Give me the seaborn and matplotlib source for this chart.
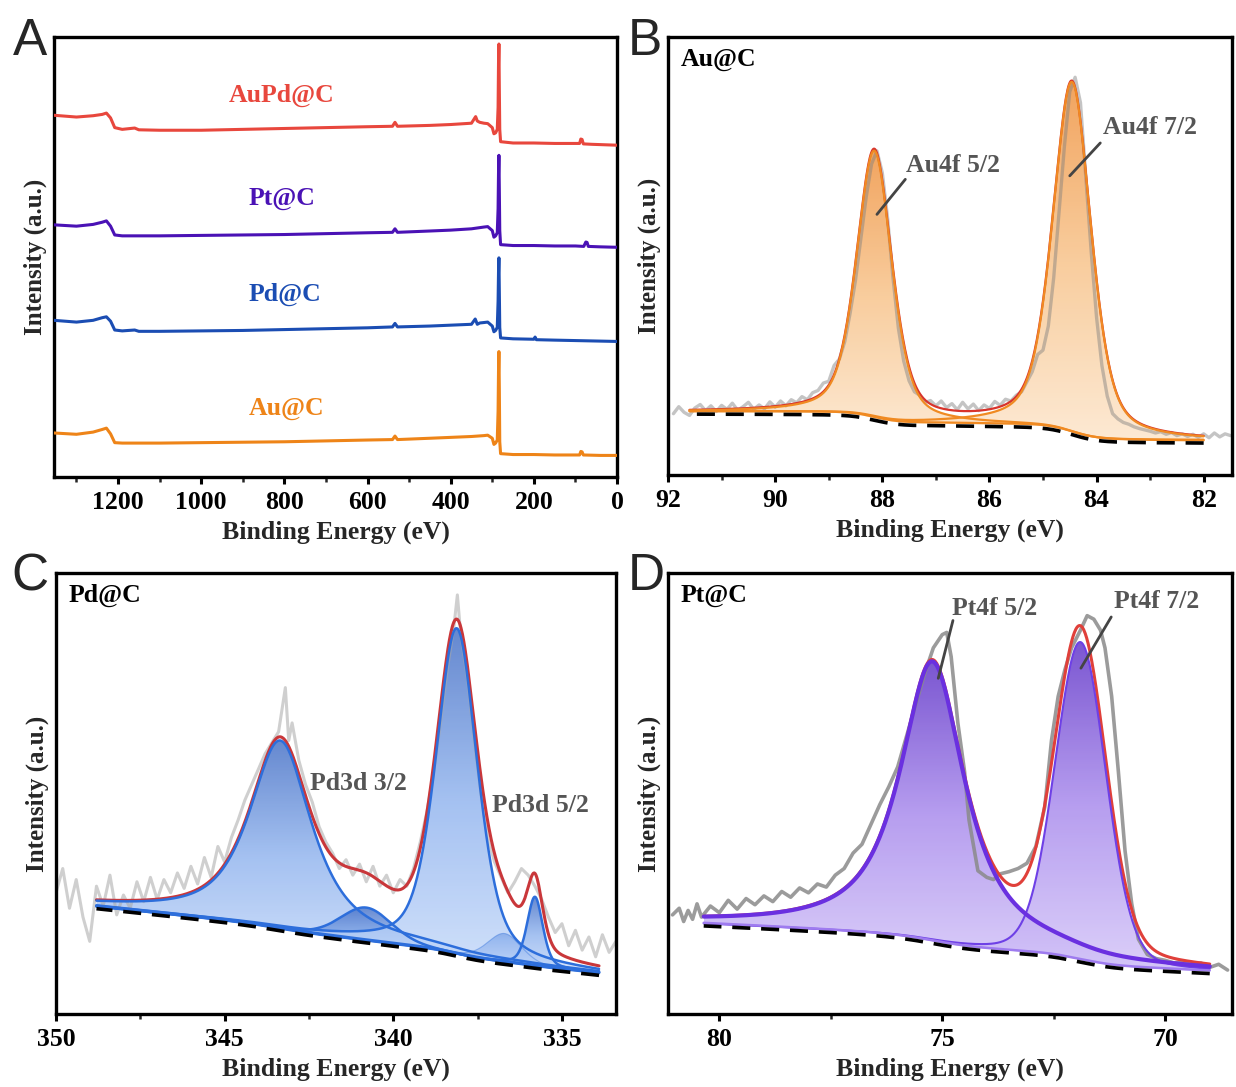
import numpy as np
import pandas as pd
import matplotlib
matplotlib.use("Agg")
import matplotlib.pyplot as plt
import seaborn as sns
from matplotlib.colors import LinearSegmentedColormap
from matplotlib.patches import PathPatch
from matplotlib.path import Path
from matplotlib.ticker import MultipleLocator

# ---------------- Panel A: survey spectra (binding energy eV, intensity a.u.) ----------------
aupd_E = [1354, 1300, 1260, 1238, 1228, 1218, 1208, 1190, 1160, 1150, 1100, 1000, 900, 800, 700, 600,
          540, 534, 528, 450, 400, 350, 340, 336, 330, 320, 311, 300, 296, 292, 288, 286, 285, 284,
          283, 282, 280, 250, 200, 150, 100, 90, 87, 84, 81, 60, 30, 0]
aupd_I = [82.2, 81.8, 82.1, 82.4, 82.7, 81.6, 79.4, 79.0, 79.3, 78.9, 78.8, 78.8, 79.0, 79.2, 79.4, 79.6,
          79.7, 80.6, 79.7, 79.9, 80.1, 80.4, 81.9, 80.9, 80.6, 80.4, 80.3, 79.4, 78.0, 78.2, 79.0, 84.0,
          94.0, 98.4, 88.0, 79.0, 76.2, 75.9, 75.9, 75.8, 75.8, 75.8, 76.8, 76.7, 75.7, 75.6, 75.5, 75.4]
pt_E = [1354, 1300, 1260, 1238, 1228, 1218, 1208, 1190, 1100, 1000, 900, 800, 700, 600, 540, 534, 528,
        450, 400, 350, 320, 311, 300, 296, 292, 288, 286, 285, 284, 283, 282, 280, 250, 200, 150, 100,
        80, 75, 72, 69, 40, 0]
pt_I = [57.3, 57.0, 57.4, 57.9, 58.2, 57.0, 55.0, 54.8, 54.8, 54.9, 55.0, 55.1, 55.3, 55.5, 55.6, 56.4,
        55.6, 55.9, 56.1, 56.4, 56.8, 56.9, 56.0, 54.5, 54.8, 55.5, 61.0, 69.0, 73.1, 65.0, 56.0, 52.8,
        52.6, 52.6, 52.5, 52.5, 52.4, 53.4, 53.3, 52.4, 52.3, 52.2]
pd_E = [1354, 1300, 1260, 1238, 1228, 1218, 1208, 1190, 1160, 1150, 1100, 1000, 900, 800, 700, 600,
        540, 534, 528, 450, 400, 350, 341, 336, 330, 320, 311, 300, 296, 292, 288, 286, 285, 284, 283,
        282, 280, 250, 200, 197, 194, 150, 100, 50, 0]
pd_I = [35.6, 35.2, 35.6, 36.2, 36.4, 35.4, 33.4, 33.2, 33.4, 33.1, 33.1, 33.2, 33.3, 33.5, 33.7, 33.9,
        34.1, 34.9, 34.1, 34.3, 34.5, 34.7, 35.9, 34.7, 35.0, 35.1, 35.2, 34.3, 33.0, 33.3, 34.0, 40.0,
        46.5, 49.8, 42.0, 34.0, 31.6, 31.4, 31.3, 31.8, 31.2, 31.1, 31.0, 30.9, 30.8]
au_E = [1354, 1300, 1260, 1238, 1228, 1218, 1208, 1190, 1100, 1000, 900, 800, 700, 600, 540, 534, 528,
        450, 400, 350, 320, 311, 300, 296, 292, 288, 286, 285, 284, 283, 282, 280, 250, 200, 150, 100,
        90, 87, 84, 81, 40, 0]
au_I = [10.0, 9.7, 10.2, 10.8, 11.1, 9.8, 7.8, 7.7, 7.7, 7.8, 7.9, 8.0, 8.2, 8.4, 8.5, 9.3, 8.5, 8.8,
        9.0, 9.2, 9.4, 9.5, 8.8, 7.4, 7.7, 8.4, 15.0, 24.0, 28.5, 20.0, 8.0, 5.3, 5.1, 5.1, 5.0, 5.0,
        5.0, 5.8, 5.7, 5.0, 4.9, 4.9]
survey_names = ["AuPd@C", "Pt@C", "Pd@C", "Au@C"]
survey_colors = ["#E8473D", "#4A12B5", "#1B4DB3", "#EE8418"]
survey_label_pos = [(806, 86.7), (805, 63.2), (798, 41.5), (795, 15.6)]

# ---------------- Panel B: Au 4f ----------------
au4f_raw_E = [91.9, 91.8, 91.7, 91.6, 91.5, 91.4, 91.3, 91.2, 91.1, 91.0, 90.9, 90.8, 90.7, 90.6, 90.5,
              90.4, 90.3, 90.2, 90.1, 90.0, 89.9, 89.8, 89.7, 89.6, 89.5, 89.4, 89.3, 89.2, 89.1, 89.0,
              88.9, 88.8, 88.7, 88.6, 88.5, 88.4, 88.3, 88.2, 88.1, 88.0, 87.9, 87.8, 87.7, 87.6, 87.5,
              87.4, 87.3, 87.2, 87.1, 87.0, 86.9, 86.8, 86.7, 86.6, 86.5, 86.4, 86.3, 86.2, 86.1, 86.0,
              85.9, 85.8, 85.7, 85.6, 85.5, 85.4, 85.3, 85.2, 85.1, 85.0, 84.9, 84.8, 84.7, 84.6, 84.5,
              84.4, 84.3, 84.2, 84.1, 84.0, 83.9, 83.8, 83.7, 83.6, 83.5, 83.4, 83.3, 83.2, 83.1, 83.0,
              82.9, 82.8, 82.7, 82.6, 82.5, 82.4, 82.3, 82.2, 82.1, 82.0, 81.9, 81.8, 81.7, 81.6, 81.5]
au4f_raw_I = [14.0, 15.6, 14.3, 13.6, 15.3, 16.1, 14.7, 15.8, 14.5, 15.9, 15.0, 16.4, 14.8, 15.6, 16.6,
              15.0, 16.0, 15.1, 16.7, 15.5, 16.9, 15.8, 17.2, 16.5, 17.9, 17.2, 18.8, 19.3, 21.0, 21.4,
              25.0, 26.5, 30.5, 37.0, 44.5, 54.0, 63.5, 71.0, 74.0, 69.0, 58.5, 45.0, 33.5, 26.0, 21.5,
              19.0, 18.2, 16.6, 17.0, 15.8, 16.9, 15.4, 16.3, 14.9, 16.6, 15.1, 16.2, 14.7, 16.0, 15.2,
              16.8, 15.9, 17.3, 16.9, 18.2, 19.0, 21.3, 23.6, 27.5, 28.5, 34.0, 45.0, 60.0, 75.0, 87.5,
              90.8, 85.0, 68.0, 51.0, 36.0, 25.0, 18.0, 14.0, 12.8, 12.0, 11.6, 11.0, 10.6, 10.3, 10.0,
              9.6, 9.9, 9.3, 9.7, 9.0, 9.4, 8.8, 9.3, 8.6, 9.4, 8.5, 9.6, 8.7, 9.4, 9.0]
# fitted components: centre (eV), height, FWHM (eV), Lorentzian fraction
au4f_centers = [88.15, 84.46]
au4f_heights = [61.0, 80.0]
au4f_fwhm = [0.78, 0.85]
au4f_lfrac = [0.45, 0.45]
au4f_range = (82.0, 91.6)
au4f_bg_ends = (7.8, 14.4)      # background at low / high BE end
au4f_bg_slope = 0.0

# ---------------- Panel C: Pd 3d ----------------
pd3d_raw_E = [350.0, 349.8, 349.6, 349.4, 349.2, 349.0, 348.8, 348.6, 348.4, 348.2, 348.0, 347.8, 347.6,
              347.4, 347.2, 347.0, 346.8, 346.6, 346.4, 346.2, 346.0, 345.8, 345.6, 345.4, 345.2, 345.0,
              344.8, 344.6, 344.4, 344.2, 344.0, 343.8, 343.6, 343.4, 343.2, 343.1, 343.0, 342.8, 342.6,
              342.4, 342.2, 342.0, 341.8, 341.6, 341.4, 341.2, 341.0, 340.8, 340.6, 340.4, 340.2, 340.0,
              339.8, 339.6, 339.4, 339.2, 339.0, 338.8, 338.6, 338.4, 338.2, 338.1, 338.0, 337.8, 337.6,
              337.4, 337.2, 337.0, 336.8, 336.6, 336.4, 336.2, 336.0, 335.8, 335.6, 335.4, 335.2, 335.0,
              334.8, 334.6, 334.4, 334.2, 334.0, 333.8, 333.6, 333.4]
pd3d_raw_I = [27.5, 33.0, 24.0, 30.5, 22.0, 16.5, 29.0, 24.5, 31.5, 22.5, 27.0, 24.0, 30.0,
              25.5, 31.0, 26.0, 30.5, 27.5, 32.0, 28.5, 33.5, 29.5, 35.5, 31.0, 38.0, 34.5,
              40.0, 44.0, 48.5, 52.0, 55.5, 59.0, 61.5, 64.0, 74.0, 62.0, 66.0, 57.5, 52.0,
              48.0, 42.5, 39.0, 36.5, 33.0, 35.0, 31.5, 34.0, 30.0, 33.5, 29.0, 31.5, 27.5,
              30.5, 29.0, 33.0, 39.0, 46.0, 55.0, 66.0, 78.0, 88.0, 95.0, 86.0, 76.0, 62.0,
              50.0, 40.0, 34.5, 31.0, 27.5, 30.0, 33.0, 31.5, 29.0, 26.0, 22.0, 18.5, 20.5,
              15.5, 19.0, 14.5, 17.5, 13.0, 18.0, 14.0, 16.5]
pd3d_centers = [343.35, 340.8, 338.12, 336.7, 335.8]
pd3d_heights = [42.6, 7.5, 73.8, 6.5, 15.7]
pd3d_fwhm = [2.2, 1.8, 1.45, 1.2, 0.55]
pd3d_lfrac = [0.8, 0.2, 0.45, 0.3, 0.4]
pd3d_range = (333.9, 348.8)
pd3d_bg_ends = (9.3, 24.4)
pd3d_bg_slope = 0.78

# ---------------- Panel D: Pt 4f ----------------
pt4f_raw_E = [81.05, 80.9, 80.8, 80.7, 80.6, 80.5, 80.4, 80.2, 80.0, 79.8, 79.6, 79.4, 79.2, 79.0, 78.8,
              78.6, 78.4, 78.2, 78.0, 77.8, 77.6, 77.4, 77.2, 77.0, 76.8, 76.6, 76.4, 76.2, 76.0, 75.8,
              75.6, 75.4, 75.2, 75.0, 74.9, 74.8, 74.65, 74.5, 74.4, 74.2, 74.0, 73.85, 73.7, 73.5, 73.3,
              73.1, 72.9, 72.7, 72.55, 72.4, 72.25, 72.1, 71.9, 71.75, 71.6, 71.45, 71.35, 71.2, 71.05,
              70.9, 70.75, 70.6, 70.4, 70.2, 70.0, 69.8, 69.6, 69.4, 69.2, 69.0, 68.8, 68.6]
pt4f_raw_I = [22.5, 24.0, 21.0, 23.5, 21.5, 25.0, 22.0, 24.5, 23.0, 25.8, 23.8, 26.2, 24.8, 26.8, 25.5,
              27.8, 26.5, 28.6, 27.5, 29.5, 28.8, 31.5, 33.0, 36.5, 38.5, 43.0, 47.5, 51.5, 56.0, 63.0,
              70.0, 77.0, 83.0, 86.0, 86.5, 81.0, 66.0, 55.0, 44.0, 32.5, 31.0, 30.5, 31.8, 32.3, 33.0,
              34.2, 38.0, 47.0, 62.0, 72.0, 78.0, 83.0, 87.0, 90.3, 89.5, 87.0, 83.0, 72.0, 55.0,
              37.0, 25.0, 17.0, 13.5, 12.6, 12.2, 11.6, 12.0, 11.0, 11.6, 10.6, 11.3, 10.0]
pt4f_centers = [75.22, 71.9]
pt4f_heights = [63.4, 72.0]
pt4f_fwhm = [1.75, 1.35]
pt4f_lfrac = [0.9, 0.15]
pt4f_range = (69.0, 80.35)
pt4f_bg_ends = (9.7, 20.5)
pt4f_bg_slope = 0.45

FS = 18.5


# ---------------- helpers ----------------
def pseudo_voigt(E, c, h, w, eta):
    x = (E - c) / w
    return h * (eta / (1 + 4 * x ** 2) + (1 - eta) * np.exp(-4 * np.log(2) * x ** 2))


def fit_model(rng, centers, heights, fwhm, lfrac, bg_ends, slope):
    E = np.linspace(rng[0], rng[1], 700)
    comps = [pseudo_voigt(E, c, h, w, l) for c, h, w, l in zip(centers, heights, fwhm, lfrac)]
    total = np.sum(comps, axis=0)
    cum = np.cumsum(total)
    step = bg_ends[1] - bg_ends[0] - slope * (rng[1] - rng[0])
    bg = bg_ends[0] + slope * (E - rng[0]) + step * cum / cum[-1]
    return E, bg, comps, bg + total


def grad_fill(ax, E, lower, upper, colors, alpha, z):
    verts = np.concatenate([np.column_stack([E, upper]), np.column_stack([E[::-1], lower[::-1]])])
    patch = PathPatch(Path(verts), facecolor="none", edgecolor="none", transform=ax.transData)
    ax.add_patch(patch)
    cmap = LinearSegmentedColormap.from_list("g", colors)
    grad = np.linspace(0, 1, 256).reshape(-1, 1)
    im = ax.imshow(grad, extent=(E.min(), E.max(), lower.min(), upper.max()), origin="lower",
                   aspect="auto", cmap=cmap, alpha=alpha, zorder=z, interpolation="bilinear")
    im.set_clip_path(patch)


def line(ax, x, y, color, lw, z, alpha=1.0):
    df = pd.DataFrame({"E": x, "I": y})
    sns.lineplot(data=df, x="E", y="I", ax=ax, color=color, linewidth=lw, sort=False,
                 estimator=None, zorder=z, alpha=alpha)
    return ax.lines[-1]


def style(ax, xlim, major, minor):
    ax.set_xlim(*xlim)
    ax.set_ylim(0, 100)
    ax.xaxis.set_major_locator(MultipleLocator(major))
    ax.xaxis.set_minor_locator(MultipleLocator(minor))
    ax.tick_params(axis="x", which="major", direction="out", length=5, width=2.2, labelsize=FS,
                   pad=5, bottom=True, top=False, colors="black")
    ax.tick_params(axis="x", which="minor", direction="out", length=3.5, width=1.8, bottom=True, top=False)
    ax.set_yticks([])
    for s in ax.spines.values():
        s.set_linewidth(2.4)
        s.set_color("black")
    ax.set_xlabel("Binding Energy (eV)", fontsize=FS, fontweight="bold", labelpad=5)
    ax.set_ylabel("Intensity (a.u.)", fontsize=18, fontweight="bold", labelpad=5)


# ---------------- figure ----------------
sns.set_theme(style="white")
plt.rcParams["font.family"] = ["Liberation Serif", "DejaVu Serif"]
plt.rcParams["font.weight"] = "bold"
plt.rcParams["axes.labelweight"] = "bold"

fig = plt.figure(figsize=(12.36, 10.87), dpi=100)
axA = fig.add_axes([0.0437, 0.5612, 0.4555, 0.4048])
axB = fig.add_axes([0.5405, 0.5630, 0.4563, 0.4030])
axC = fig.add_axes([0.0453, 0.0670, 0.4530, 0.4060])
axD = fig.add_axes([0.5405, 0.0670, 0.4563, 0.4060])

for letter, fx, fy in [("A", 0.0105, 0.9494), ("B", 0.5075, 0.9494),
                       ("C", 0.0090, 0.4572), ("D", 0.5075, 0.4572)]:
    fig.text(fx, fy, letter, fontsize=37, family=["Liberation Sans", "DejaVu Sans"],
             fontweight="normal", ha="left", va="baseline")

# Panel A
for E, I, name, col, (lx, ly) in zip([aupd_E, pt_E, pd_E, au_E], [aupd_I, pt_I, pd_I, au_I],
                                     survey_names, survey_colors, survey_label_pos):
    line(axA, E, I, col, 2.2, 3)
    axA.text(lx, ly, name, color=col, fontsize=FS, fontweight="bold", ha="center", va="center")
style(axA, (1354, 0), 200, 100)

# Panel B
E, bg, comps, env = fit_model(au4f_range, au4f_centers, au4f_heights, au4f_fwhm, au4f_lfrac,
                              au4f_bg_ends, au4f_bg_slope)
for c in comps:
    grad_fill(axB, E, bg, bg + c, ["#FDE6CC", "#F8C48C", "#EF9442"], 0.85, 1)
line(axB, au4f_raw_E, au4f_raw_I, "#7E7E7E", 2.4, 2, alpha=0.45)
line(axB, E, env, "#D8342C", 1.6, 3)
for c in comps:
    line(axB, E, bg + c, "#F08A22", 1.6, 4)
line(axB, E, bg + 0.25, "#F08A22", 1.6, 4)
l = line(axB, E, bg - 0.5, "black", 2.6, 5)
l.set_dashes([5, 3])
axB.text(0.022, 0.975, "Au@C", transform=axB.transAxes, fontsize=FS, fontweight="bold",
         ha="left", va="top", color="black")
axB.plot([88.1, 87.57], [59.5, 67.5], color="#444444", lw=2, zorder=6)
axB.text(87.55, 70.6, "Au4f 5/2", fontsize=FS, fontweight="bold", color="#555555", ha="left", va="center")
axB.plot([84.5, 83.93], [68.3, 75.8], color="#444444", lw=2, zorder=6)
axB.text(83.88, 79.4, "Au4f 7/2", fontsize=FS, fontweight="bold", color="#555555", ha="left", va="center")
style(axB, (92, 81.47), 2, 1)

# Panel C
E, bg, comps, env = fit_model(pd3d_range, pd3d_centers, pd3d_heights, pd3d_fwhm, pd3d_lfrac,
                              pd3d_bg_ends, pd3d_bg_slope)
for c in comps:
    grad_fill(axC, E, bg, bg + c, ["#C6DAFA", "#8EB2EE", "#3F6BC4"], 0.8, 1)
line(axC, pd3d_raw_E, pd3d_raw_I, "#A8A8A8", 2.2, 2, alpha=0.55)
line(axC, E, env, "#C9373A", 2.2, 3)
for i, c in enumerate(comps):
    line(axC, E, bg + c, "#2D6EDB", 1.8 if i != 3 else 0.8, 4, alpha=1.0 if i != 3 else 0.4)
line(axC, E, bg + 0.2, "#2D6EDB", 2.2, 4)
l = line(axC, E, bg - 0.5, "black", 2.6, 5)
l.set_dashes([5, 3])
axC.text(0.022, 0.975, "Pd@C", transform=axC.transAxes, fontsize=FS, fontweight="bold",
         ha="left", va="top", color="black")
axC.text(342.47, 52.3, "Pd3d 3/2", fontsize=FS, fontweight="bold", color="#555555", ha="left", va="center")
axC.text(337.06, 47.3, "Pd3d 5/2", fontsize=FS, fontweight="bold", color="#555555", ha="left", va="center")
style(axC, (350, 333.4), 5, 2.5)

# Panel D
E, bg, comps, env = fit_model(pt4f_range, pt4f_centers, pt4f_heights, pt4f_fwhm, pt4f_lfrac,
                              pt4f_bg_ends, pt4f_bg_slope)
for c in comps:
    grad_fill(axD, E, bg, bg + c, ["#D3C4F8", "#A586EC", "#5A2CC6"], 0.8, 1)
line(axD, pt4f_raw_E, pt4f_raw_I, "#8A8A8A", 2.6, 2, alpha=0.85)
line(axD, E, env, "#E0403A", 2.2, 3)
line(axD, E, bg + comps[1], "#6E40E6", 1.5, 4)
line(axD, E, bg + comps[0], "#6A30E0", 3.0, 4)
line(axD, E, bg + 0.2, "#9E7BEF", 1.8, 4)
l = line(axD, E, bg - 0.5, "black", 2.6, 5)
l.set_dashes([5, 3])
axD.text(0.022, 0.975, "Pt@C", transform=axD.transAxes, fontsize=FS, fontweight="bold",
         ha="left", va="top", color="black")
axD.plot([75.09, 74.76], [76.1, 89.2], color="#444444", lw=2, zorder=6)
axD.text(74.78, 91.9, "Pt4f 5/2", fontsize=FS, fontweight="bold", color="#555555", ha="left", va="center")
axD.plot([71.89, 71.21], [78.4, 90.0], color="#444444", lw=2, zorder=6)
axD.text(71.14, 93.4, "Pt4f 7/2", fontsize=FS, fontweight="bold", color="#555555", ha="left", va="center")
style(axD, (81.15, 68.5), 5, 2.5)

fig.savefig("out.png", dpi=100, facecolor="white")
